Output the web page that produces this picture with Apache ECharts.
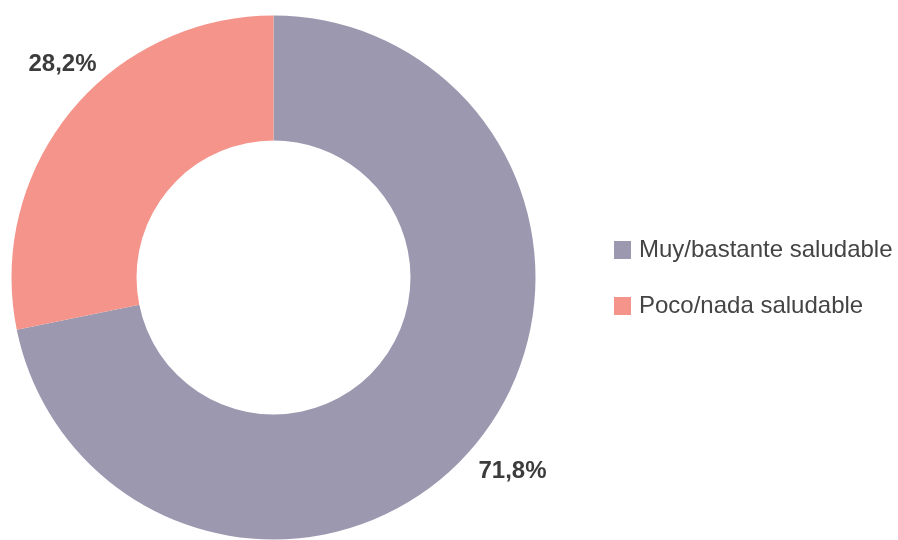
<!DOCTYPE html>
<html>
<head>
<meta charset="utf-8">
<script src="https://cdn.jsdelivr.net/npm/echarts@6/dist/echarts.min.js"></script>
<style>
  html, body { margin: 0; padding: 0; background: #fff; }
  #chart { width: 898px; height: 540px; }
</style>
</head>
<body>
<div id="chart"></div>
<script>
// categorías y valores (%)
const categories = ['Muy/bastante saludable', 'Poco/nada saludable']
const values = [71.8, 28.2]
const colors = ['#9b98b0', '#f4948a']

const chart = echarts.init(document.getElementById('chart'))

const option = {
  animation: false,
  color: colors,
  legend: {
    orient: 'vertical',
    left: 614,
    top: 238,
    padding: 0,
    itemWidth: 17,
    itemHeight: 18,
    itemGap: 32,
    icon: 'rect',
    data: categories,
    textStyle: {
      fontFamily: 'Liberation Sans, Arial, sans-serif',
      fontSize: 24,
      color: '#444',
      padding: [0, 0, 0, 3]
    }
  },
  series: [{
    type: 'pie',
    center: [273.5, 277.5],
    radius: [137, 262],
    startAngle: 90,
    clockwise: true,
    legendHoverLink: false,
    emphasis: { disabled: true },
    data: categories.map((name, i) => ({ name: name, value: values[i] })),
    label: {
      position: 'outside',
      overflow: 'none',
      formatter: p => p.value.toFixed(1).replace('.', ',') + '%',
      fontFamily: 'Liberation Sans, Arial, sans-serif',
      fontWeight: 'bold',
      fontSize: 24,
      color: '#3c3c3c'
    },
    labelLine: { show: false, length: 44, length2: 0 },
    // centrar el texto sobre el punto radial
    labelLayout: p => {
      const half = p.labelRect.width / 2
      const shift = p.dataIndex === 1 ? [31, -20] : [-3, 0]
      return { dx: (p.align === 'right' ? half : -half) + shift[0], dy: shift[1] }
    }
  }]
}

chart.setOption(option)
</script>
</body>
</html>
